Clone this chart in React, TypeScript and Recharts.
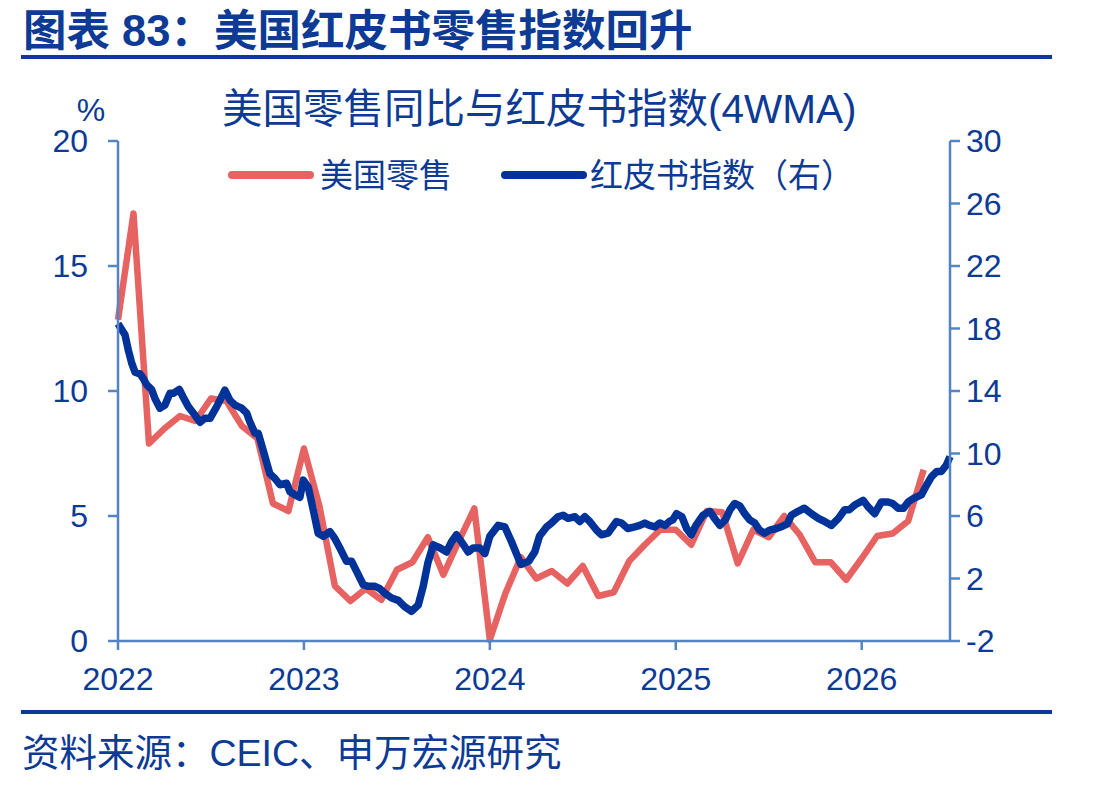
import { Line, LineChart, XAxis, YAxis } from "recharts"

// US retail sales YoY (%), monthly from Jan 2022 (index = months since Jan 2022)
const retailYoy = [
  12.85, 17.1, 7.9, 8.5, 9.0, 8.8, 9.7, 9.6, 8.6, 8.1, 5.5, 5.2,
  7.7, 5.4, 2.2, 1.6, 2.1, 1.65, 2.85, 3.15, 4.15, 2.65, 4.0, 5.3,
  0.05, 1.9, 3.35, 2.5, 2.8, 2.3, 3.0, 1.8, 1.95, 3.2, 3.85, 4.45,
  4.45, 3.85, 5.2, 5.15, 3.1, 4.45, 4.15, 5.0, 4.25, 3.15, 3.15, 2.45,
  3.3, 4.2, 4.3, 4.8, 6.85,
]

// Redbook index 4WMA (%), [months since Jan 2022, value]
const redbook: Array<[number, number]> = [
  [0, 18.3], [0.45, 17.6], [0.67, 16.6], [0.88, 15.8], [1.1, 15.2], [1.42, 15.1],
  [1.63, 14.8], [1.85, 14.4], [2.17, 14.1], [2.39, 13.5], [2.71, 12.9], [3.03, 13.1],
  [3.35, 13.85], [3.57, 13.85], [3.96, 14.1], [4.21, 13.6], [4.54, 13.0], [4.97, 12.45],
  [5.3, 12.0], [5.6, 12.25], [5.94, 12.25], [6.37, 13.0], [6.9, 14.05], [7.23, 13.4],
  [7.55, 13.1], [7.98, 12.9], [8.3, 12.6], [8.5, 12.05], [8.84, 11.3], [9.05, 11.3],
  [9.37, 10.2], [9.8, 8.7], [10.13, 8.4], [10.45, 8.0], [10.88, 8.1], [11.1, 7.55],
  [11.42, 7.35], [11.74, 7.2], [11.96, 8.3], [12.28, 7.85], [12.6, 6.4], [12.92, 4.9],
  [13.25, 4.7], [13.68, 5.0], [14.0, 4.55], [14.32, 3.95], [14.75, 3.1], [15.08, 3.1],
  [15.4, 2.45], [15.83, 1.6], [16.15, 1.5], [16.58, 1.5], [16.9, 1.35], [17.23, 1.05],
  [17.66, 0.75], [18.09, 0.6], [18.5, 0.2], [18.95, -0.1], [19.38, 0.3], [19.7, 1.5],
  [20.0, 3.0], [20.35, 4.15], [20.8, 3.95], [21.2, 3.7], [21.53, 4.35], [21.85, 4.8],
  [22.3, 4.15], [22.6, 3.7], [22.92, 3.95], [23.35, 3.95], [23.68, 3.6], [24.0, 4.7],
  [24.54, 5.4], [24.97, 5.3], [25.4, 4.35], [26.0, 2.9], [26.5, 3.1], [26.9, 3.7],
  [27.2, 4.7], [27.66, 5.3], [27.98, 5.55], [28.4, 5.95], [28.73, 6.05], [29.05, 5.85],
  [29.5, 5.95], [29.8, 5.65], [30.13, 5.95], [30.45, 5.65], [30.88, 5.1], [31.2, 4.8],
  [31.63, 4.9], [32.17, 5.65], [32.5, 5.55], [32.9, 5.2], [33.35, 5.3], [33.68, 5.4],
  [34.0, 5.55], [34.3, 5.4], [34.65, 5.3], [34.97, 5.55], [35.3, 5.4], [35.6, 5.65],
  [35.8, 5.75], [36.05, 6.15], [36.4, 5.95], [36.7, 5.2], [37.0, 4.8], [37.3, 5.4],
  [37.76, 6.05], [38.2, 6.3], [38.5, 5.85], [38.84, 5.4], [39.2, 5.75], [39.5, 6.4],
  [39.8, 6.8], [40.13, 6.65], [40.45, 6.15], [40.77, 5.75], [41.1, 5.55], [41.4, 5.1],
  [41.74, 4.9], [42.06, 5.1], [42.5, 5.2], [42.9, 5.35], [43.2, 5.5], [43.46, 6.05],
  [43.9, 6.3], [44.3, 6.5], [44.75, 6.15], [45.2, 5.85], [45.6, 5.65], [46.05, 5.4],
  [46.5, 5.85], [46.9, 6.4], [47.2, 6.4], [47.55, 6.7], [48.1, 7.0], [48.4, 6.6],
  [48.84, 6.15], [49.27, 6.9], [49.7, 6.9], [50.0, 6.8], [50.35, 6.5], [50.7, 6.5],
  [51.0, 6.9], [51.4, 7.15], [51.85, 7.35], [52.2, 8.0], [52.5, 8.5], [52.85, 8.85],
  [53.14, 8.85], [53.46, 9.25], [53.7, 9.8],
]

const yearTicks = [0, 12, 24, 36, 48]
const yearLabels = ["2022", "2023", "2024", "2025", "2026"]
const leftTicks = [0, 5, 10, 15, 20]
const rightTicks = [-2, 2, 6, 10, 14, 18, 22, 26, 30]

const FONT = '"Liberation Sans", Arial, "Noto Sans CJK SC", sans-serif'
const TEXT = "#0c3a94"
const AXIS = "#5584c4"
const RED = "#e66362"
const BLUE = "#003399"

const rows = [
  ...retailYoy.map((v, i) => ({ m: i, red: v as number | null, blue: null as number | null })),
  ...redbook.map(([m, v]) => ({ m, red: null as number | null, blue: v as number | null })),
].sort((a, b) => a.m - b.m)

const tickStyle = { fill: TEXT, fontSize: 32, fontFamily: FONT }

export default function App() {
  return (
    <div style={{ position: "absolute", left: 0, top: 0, width: 1094, height: 787, background: "#fff" }}>
      <LineChart width={1094} height={787} data={rows} margin={{ top: 141, right: 0, bottom: 106, left: 0 }}>
        <XAxis
          dataKey="m"
          type="number"
          domain={[0, 53.7]}
          ticks={yearTicks}
          interval={0}
          tickFormatter={(m: number) => yearLabels[yearTicks.indexOf(m)] ?? ""}
          height={40}
          tickSize={9}
          tickMargin={17}
          stroke={AXIS}
          strokeWidth={2.5}
          tick={tickStyle}
        />
        <YAxis
          yAxisId="l"
          domain={[0, 20]}
          ticks={leftTicks}
          interval={0}
          width={118}
          tickSize={10}
          tickMargin={20}
          stroke={AXIS}
          strokeWidth={2.5}
          tick={tickStyle}
        />
        <YAxis
          yAxisId="r"
          orientation="right"
          domain={[-2, 30]}
          ticks={rightTicks}
          interval={0}
          width={144}
          tickSize={10}
          tickMargin={6}
          stroke={AXIS}
          strokeWidth={2.5}
          tick={tickStyle}
        />
        <Line
          yAxisId="l"
          dataKey="red"
          type="linear"
          stroke={RED}
          strokeWidth={6.5}
          strokeLinejoin="round"
          dot={false}
          connectNulls
          isAnimationActive={false}
        />
        <Line
          yAxisId="r"
          dataKey="blue"
          type="linear"
          stroke={BLUE}
          strokeWidth={7.5}
          strokeLinejoin="round"
          dot={false}
          connectNulls
          isAnimationActive={false}
        />
      </LineChart>

      <svg width={1094} height={787} style={{ position: "absolute", left: 0, top: 0, pointerEvents: "none" }}>
        <text x={23} y={46} fontSize={43.5} fontWeight="bold" fill={TEXT} fontFamily={FONT}>
          图表 83：美国红皮书零售指数回升
        </text>
        <rect x={21} y={55} width={1031} height={4} fill={TEXT} />
        <text x={222} y={123} fontSize={40.5} fill={TEXT} fontFamily={FONT}>
          美国零售同比与红皮书指数(4WMA)
        </text>
        <text x={91} y={121} fontSize={32} fill={TEXT} fontFamily={FONT} textAnchor="middle">
          %
        </text>

        <line x1={232} y1={175} x2={310} y2={175} stroke={RED} strokeWidth={8} strokeLinecap="round" />
        <text x={320} y={187} fontSize={33} fill={TEXT} fontFamily={FONT}>
          美国零售
        </text>
        <line x1={505} y1={175} x2={583} y2={175} stroke={BLUE} strokeWidth={8} strokeLinecap="round" />
        <text x={590} y={187} fontSize={33} fill={TEXT} fontFamily={FONT}>
          红皮书指数（右）
        </text>

        <rect x={21} y={710} width={1031} height={4} fill={TEXT} />
        <text x={22} y={766} fontSize={37.5} fill={TEXT} fontFamily={FONT}>
          资料来源：CEIC、申万宏源研究
        </text>
      </svg>
    </div>
  )
}
